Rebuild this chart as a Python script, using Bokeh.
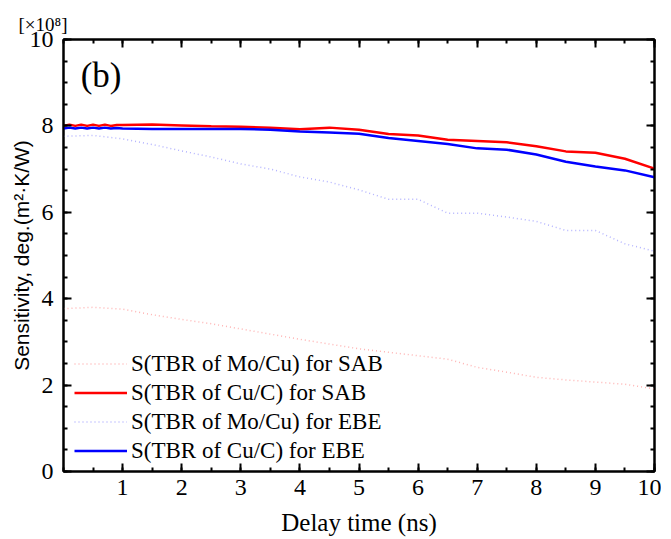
from bokeh.plotting import figure
from bokeh.models import (Range1d, FixedTicker, LinearAxis, Legend, LegendItem, Label, Title)
from bokeh.embed import file_html
from bokeh.resources import INLINE

# ---- data (sensitivity in units of 1e8) ----
t_sab_cu = [0.0, 0.1, 0.2, 0.3, 0.4, 0.5, 0.6, 0.7, 0.8, 0.9, 1.0, 1.5, 2.0, 2.5, 3.0, 3.5, 4.0, 4.5,
            5.0, 5.5, 6.0, 6.5, 7.0, 7.5, 8.0, 8.5, 9.0, 9.5, 10.0]
s_sab_cu = [8.00, 8.03, 8.00, 8.03, 8.00, 8.03, 8.00, 8.03, 8.00, 8.02, 8.02, 8.03, 8.01, 7.99, 7.98, 7.96,
            7.92, 7.96, 7.91, 7.81, 7.78, 7.68, 7.65, 7.62, 7.53, 7.41, 7.38, 7.24, 7.01]

t_ebe_cu = [0.0, 0.1, 0.2, 0.3, 0.4, 0.5, 0.6, 0.7, 0.8, 0.9, 1.0, 1.5, 2.0, 2.5, 3.0, 3.5, 4.0, 4.5,
            5.0, 5.5, 6.0, 6.5, 7.0, 7.5, 8.0, 8.5, 9.0, 9.5, 10.0]
s_ebe_cu = [7.94, 7.96, 7.94, 7.96, 7.94, 7.96, 7.94, 7.96, 7.94, 7.95, 7.94, 7.93, 7.93, 7.93, 7.93, 7.91,
            7.87, 7.85, 7.82, 7.72, 7.65, 7.58, 7.48, 7.45, 7.34, 7.17, 7.06, 6.97, 6.81]

t_ebe_mo = [0.0, 0.5, 1.0, 1.5, 2.0, 2.5, 3.0, 3.5, 4.0, 4.5, 5.0, 5.5, 6.0, 6.5, 7.0, 7.5,
            8.0, 8.5, 9.0, 9.5, 10.0]
s_ebe_mo = [7.76, 7.78, 7.70, 7.57, 7.42, 7.28, 7.12, 7.00, 6.82, 6.70, 6.52, 6.30, 6.30, 5.98, 5.98, 5.89,
            5.79, 5.58, 5.58, 5.27, 5.10]

t_sab_mo = [0.0, 0.5, 1.0, 1.5, 2.0, 2.5, 3.0, 3.5, 4.0, 4.5, 5.0, 5.5, 6.0, 6.5, 7.0, 7.5,
            8.0, 8.5, 9.0, 9.5, 10.0]
s_sab_mo = [3.77, 3.80, 3.76, 3.63, 3.52, 3.42, 3.30, 3.18, 3.06, 2.95, 2.84, 2.76, 2.68, 2.60, 2.41, 2.30,
            2.18, 2.12, 2.07, 2.02, 1.91]

x_ticks = [1, 2, 3, 4, 5, 6, 7, 8, 9, 10]
y_ticks = [0, 2, 4, 6, 8, 10]

labels = ["S(TBR of Mo/Cu) for SAB", "S(TBR of Cu/C) for SAB",
          "S(TBR of Mo/Cu) for EBE", "S(TBR of Cu/C) for EBE"]

SERIF = "Liberation Serif"
SANS = "Liberation Sans"

p = figure(output_backend="svg", toolbar_location=None,
           x_range=Range1d(0, 10), y_range=Range1d(0, 10),
           frame_width=591, frame_height=432,
           min_border_left=63, min_border_right=7, min_border_top=39, min_border_bottom=60,
           x_axis_label="Delay time (ns)", y_axis_label="Sensitivity, deg.(m²·K/W)")
p.grid.visible = False
p.outline_line_color = "black"
p.outline_line_width = 2

x_minor = [i * 0.5 for i in range(0, 21)]
y_minor = [i * 0.5 for i in range(0, 21)]

def style_axis(ax, ticks, minor, show_labels=True):
    ax.ticker = FixedTicker(ticks=ticks, minor_ticks=minor)
    ax.axis_line_color = "black"
    ax.axis_line_width = 2
    ax.major_tick_in = 8
    ax.major_tick_out = 0
    ax.minor_tick_in = 4
    ax.minor_tick_out = 0
    ax.major_tick_line_width = 2
    ax.minor_tick_line_width = 2
    ax.major_tick_line_color = "black"
    ax.minor_tick_line_color = "black"
    ax.major_label_text_font = SERIF
    ax.major_label_text_font_size = "24px"
    ax.major_label_text_color = "black"
    if not show_labels:
        ax.major_label_overrides = {t: "" for t in ticks}
        ax.major_label_standoff = 0

xa = p.xaxis[0]
ya = p.yaxis[0]
style_axis(xa, x_ticks, x_minor)
style_axis(ya, y_ticks, y_minor)
xa.major_label_standoff = 8
ya.major_label_standoff = 10
xa.axis_label_text_font = SERIF
xa.axis_label_text_font_size = "25px"
xa.axis_label_text_font_style = "normal"
xa.axis_label_text_color = "black"
xa.axis_label_standoff = 11
ya.axis_label_text_font = SANS
ya.axis_label_text_font_size = "21px"
ya.axis_label_text_font_style = "normal"
ya.axis_label_text_color = "black"
ya.axis_label_standoff = -6

top = LinearAxis()
style_axis(top, x_ticks, x_minor, show_labels=False)
p.add_layout(top, "above")
right = LinearAxis()
style_axis(right, y_ticks, y_minor, show_labels=False)
p.add_layout(right, "right")

r1 = p.line(t_sab_mo, s_sab_mo, line_color="#ffb4b4", line_width=1.5, line_dash="1 3")
r2 = p.line(t_sab_cu, s_sab_cu, line_color="#ff0000", line_width=2.5)
r3 = p.line(t_ebe_mo, s_ebe_mo, line_color="#b4b4ff", line_width=1.5, line_dash="1 3")
r4 = p.line(t_ebe_cu, s_ebe_cu, line_color="#0000ff", line_width=2.5)

legend = Legend(items=[LegendItem(label=labels[0], renderers=[r1]),
                       LegendItem(label=labels[1], renderers=[r2]),
                       LegendItem(label=labels[2], renderers=[r3]),
                       LegendItem(label=labels[3], renderers=[r4])],
                location=(11, 6), label_text_font=SERIF, label_text_font_size="23px",
                label_text_color="black",
                glyph_width=53, glyph_height=29, label_height=29, label_standoff=4,
                spacing=0, padding=0, margin=0, border_line_color=None,
                background_fill_alpha=0)
p.add_layout(legend, "center")

p.add_layout(Label(x=0.29, y=8.72, text="(b)", text_font=SERIF, text_font_size="35px",
                   text_color="black"))
p.add_layout(Title(text="[×10⁸]", align="left", offset=-45, text_font=SERIF,
                   text_font_size="19px", text_font_style="normal", text_color="black",
                   standoff=9), "above")

open("out.html", "w").write(file_html(p, INLINE))
